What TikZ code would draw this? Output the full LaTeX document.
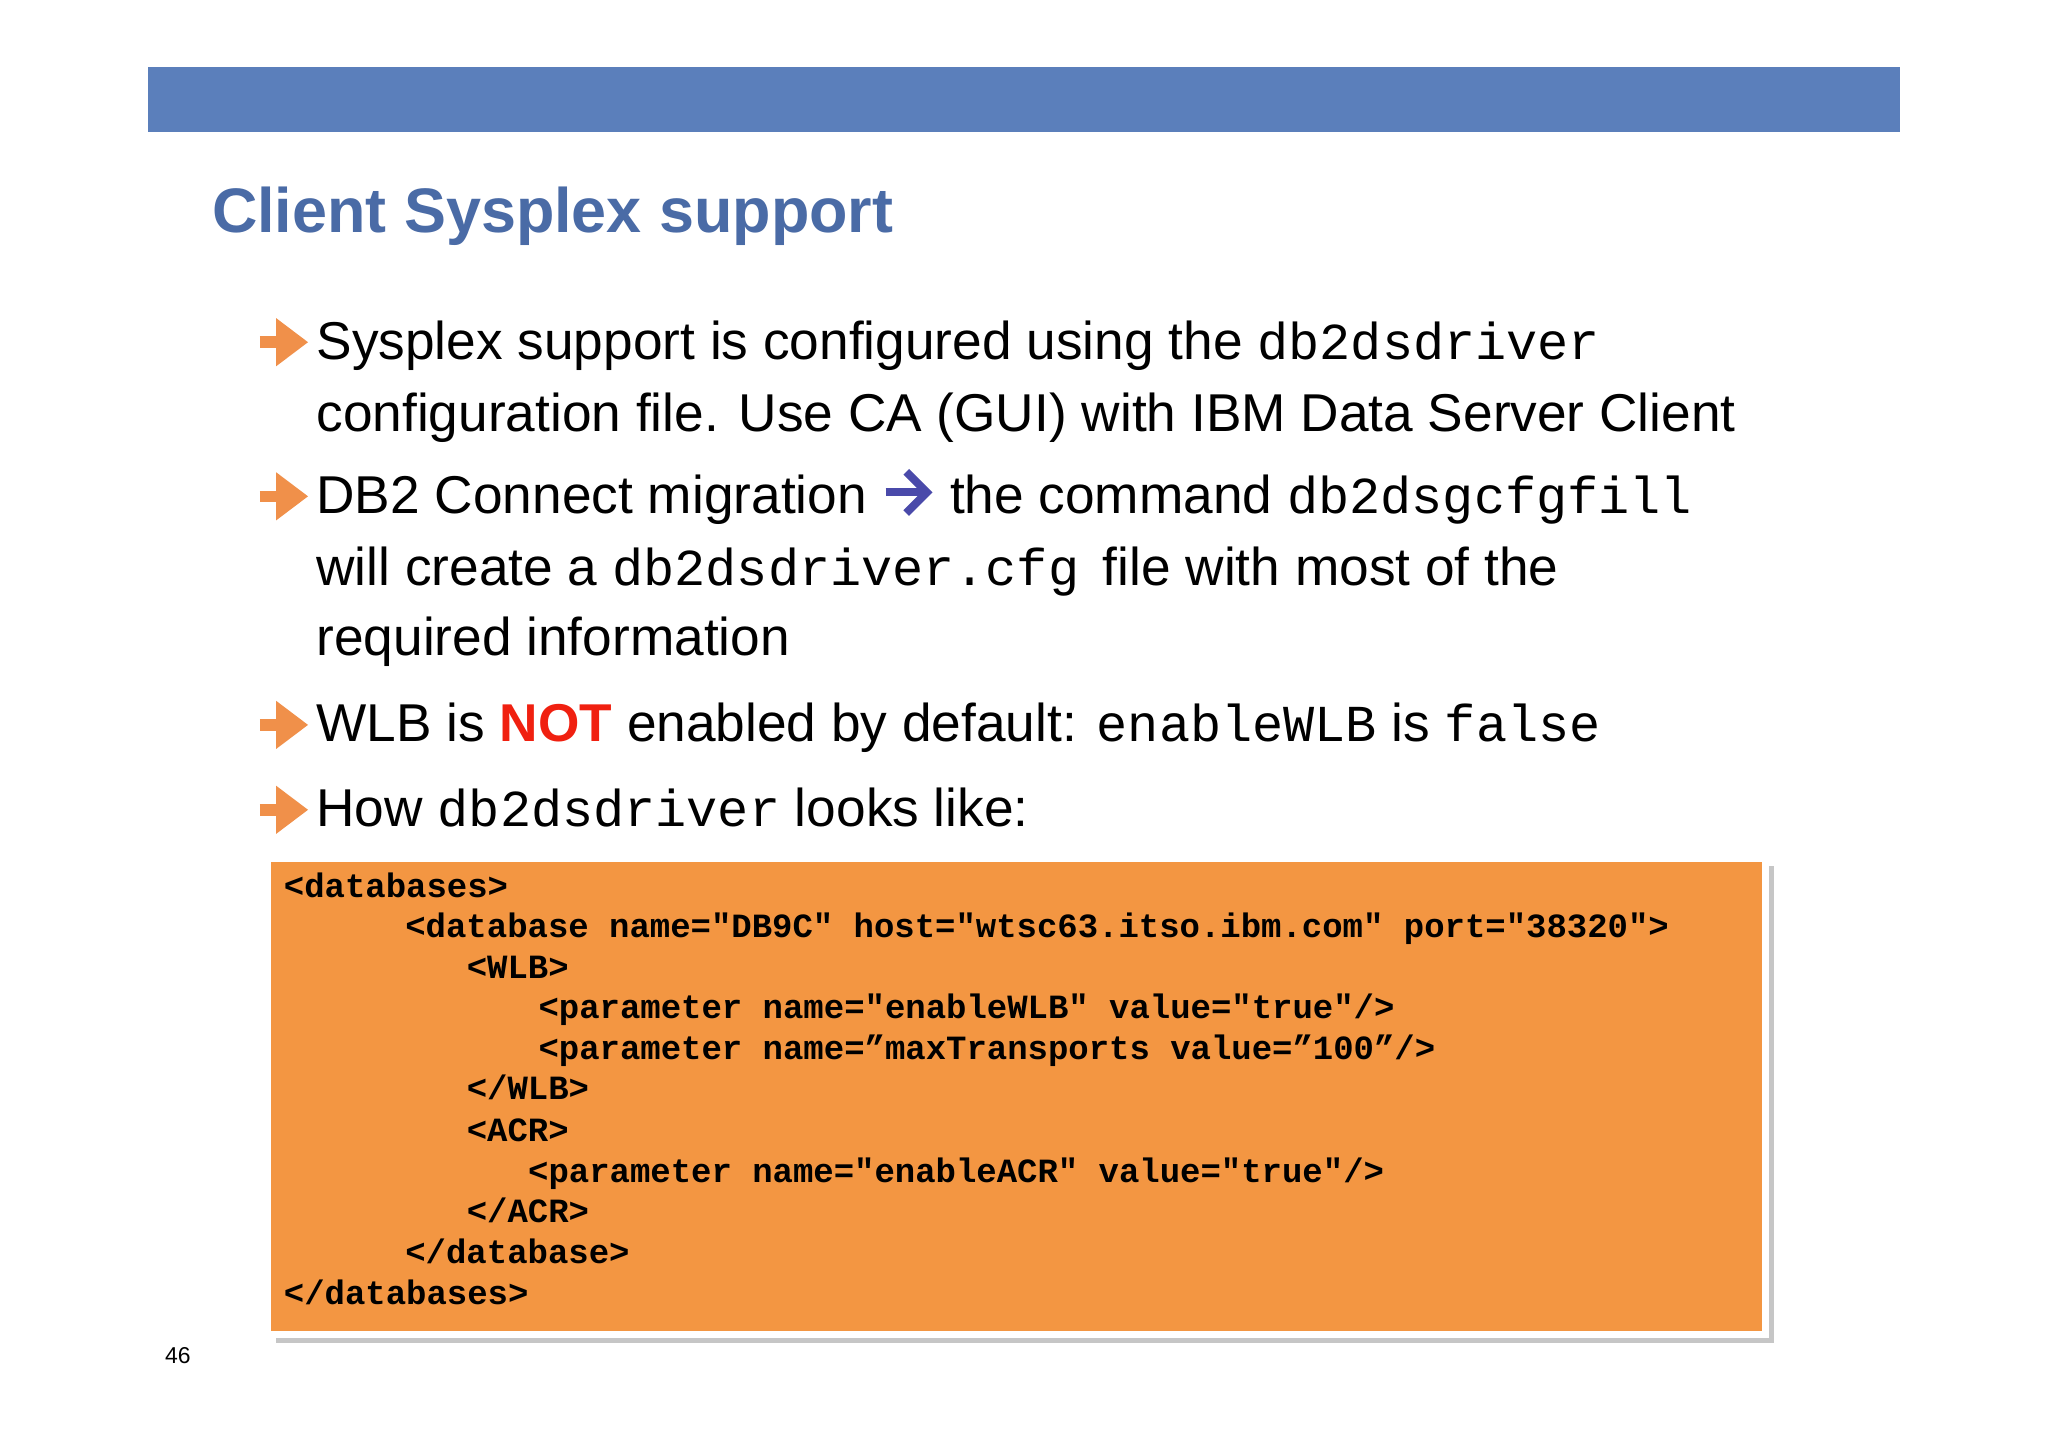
\documentclass[tikz,border=0pt]{standalone}
\usepackage{fontspec}
\setmainfont{Liberation Sans}
\newfontfamily\cmono{Liberation Mono}
\newfontfamily\cbold{Liberation Mono Bold}
\usetikzlibrary{arrows.meta}
\definecolor{barblue}{HTML}{5B7FBB}
\definecolor{titleblue}{HTML}{4A6BA6}
\definecolor{codeor}{HTML}{F39642}
\definecolor{bulor}{HTML}{F0904A}
\definecolor{arrblue}{HTML}{4A4AAA}
\definecolor{notred}{HTML}{F02010}
\newcommand{\mc}[1]{{\cmono\fontsize{22.6}{26}\selectfont #1}}
\tikzset{
  body/.style={anchor=base west,inner sep=0,font=\fontsize{23.2}{26}\selectfont},
  code/.style={anchor=base west,inner sep=0,font=\cbold\fontsize{14.8}{16}\selectfont},
  bul/.style={-{Triangle[length=14,width=20]},line width=5,draw=bulor}
}
\begin{document}
\begin{tikzpicture}[x=0.02cm,y=-0.02cm]
\useasboundingbox[fill=white] (0,0) rectangle (1568,1108);
\fill[barblue] (113,51) rectangle (1455,101);
\node[anchor=base west,inner sep=0,text=titleblue,font=\bfseries\fontsize{27.4}{32}\selectfont] (title) at (162,178) {Client Sysplex support};
\foreach \yy/\nm in {262/b1,380/b2,555/b3,620/b4}{
  \coordinate (\nm s) at (199,\yy); \coordinate (\nm e) at (236,\yy);
  \draw[bul] (\nm s) -- (\nm e);
}
\node[body] (l1) at (242,275) {Sysplex support is configured using the \mc{db2dsdriver}};
\node[body] (l2) at (242,330) {configuration file. Use CA (GUI) with IBM Data Server Client};
\node[body] (l3a) at (242,393) {DB2 Connect migration};
\coordinate (ba) at (678,377); \coordinate (bb) at (714,377);
\draw[-{Straight Barb[length=9,width=18]},line width=3.5,draw=arrblue] (ba) -- (bb);
\node[body] (l3b) at (727,393) {the command \mc{db2dsgcfgfill}};
\node[body] (l4) at (242,448) {will create a \mc{db2dsdriver.cfg}\, file with most of the};
\node[body] (l5) at (242,502) {required information};
\node[body] (l6) at (242,568) {WLB is \textcolor{notred}{\bfseries NOT} enabled by default: \mc{enableWLB} is \mc{false}};
\node[body] (l7) at (242,633) {How \mc{db2dsdriver} looks like:};
\fill[gray!45] (211,663) rectangle (1358,1028);
\draw[white,line width=3,fill=codeor] (205,657) rectangle (1352,1022);
\node[code] (c1) at (217,687) {<databases>};
\node[code] (c2) at (310,718) {<database name="DB9C" host="wtsc63.itso.ibm.com" port="38320">};
\node[code] (c3) at (357,749) {<WLB>};
\node[code] (c4) at (412,780) {<parameter name="enableWLB" value="true"/>};
\node[code] (c5) at (412,811) {<parameter name=”maxTransports value=”100”/>};
\node[code] (c6) at (357,842) {</WLB>};
\node[code] (c7) at (357,874) {<ACR>};
\node[code] (c8) at (404,905) {<parameter name="enableACR" value="true"/>};
\node[code] (c9) at (357,936) {</ACR>};
\node[code] (c10) at (310,967) {</database>};
\node[code] (c11) at (217,999) {</databases>};
\node[anchor=base west,inner sep=0,font=\fontsize{10}{12}\selectfont] (pg) at (126,1044) {46};
\end{tikzpicture}
\end{document}
